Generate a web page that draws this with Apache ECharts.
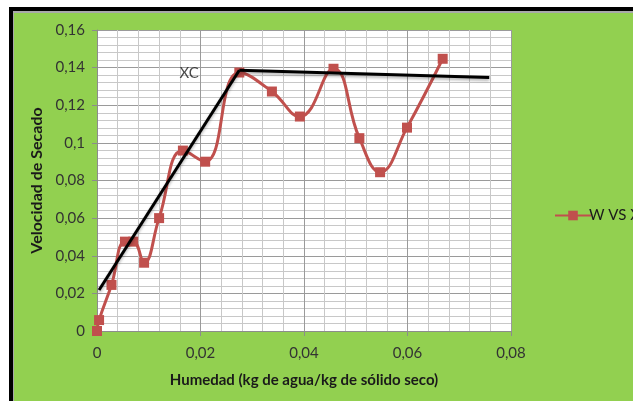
<!DOCTYPE html>
<html>
<head>
<meta charset="utf-8">
<script src="https://cdn.jsdelivr.net/npm/echarts@6/dist/echarts.min.js"></script>
<style>
  html, body { margin: 0; padding: 0; background: #fff; }
  #chart { width: 633px; height: 401px; }
</style>
</head>
<body>
<div id="chart"></div>
<script>
// Drying curve: drying rate vs. moisture content
const humedad = [0, 0.0004, 0.0028, 0.0054, 0.0070, 0.0091, 0.0120, 0.0166, 0.0209, 0.0275,
                 0.0338, 0.0392, 0.0457, 0.0507, 0.0547, 0.0599, 0.0668];
const velocidad = [0, 0.0058, 0.0245, 0.0475, 0.0475, 0.0363, 0.0600, 0.0959, 0.0900, 0.1374,
                   0.1273, 0.1140, 0.1394, 0.1025, 0.0844, 0.1081, 0.1447];

// Hand-fitted trend lines: falling-rate segment and constant-rate segment
const tramoDecreciente = [[0.0004, 0.0218], [0.0275, 0.1386]];
const tramoConstante = [[0.0275, 0.1386], [0.0758, 0.1347]];

// Critical moisture annotation
const etiquetaXC = { texto: 'XC', x: 0.0178, y: 0.1373 };

const xTicks = { min: 0, max: 0.08, step: 0.02 };
const yTicks = { min: 0, max: 0.16, step: 0.02 };

const fmt = v => String(+v.toFixed(4)).replace('.', ',');
const FONT = 'Lato, "Liberation Sans", sans-serif';

const chart = echarts.init(document.getElementById('chart'), null, { renderer: 'canvas' });

chart.setOption({
  backgroundColor: '#ffffff',
  animation: false,
  graphic: [
    { type: 'rect', z: -10, shape: { x: 9, y: 7, width: 624, height: 394 }, style: { fill: '#000' } },
    { type: 'rect', z: -9, shape: { x: 13, y: 11, width: 620, height: 390 }, style: { fill: '#a9a9a9' } },
    { type: 'rect', z: -8, shape: { x: 14, y: 13, width: 619, height: 388 }, style: { fill: '#92D050' } },
    { type: 'rect', z: -7, shape: { x: 97, y: 30, width: 414, height: 301 }, style: { fill: '#ffffff' } }
  ],
  grid: { left: 97, top: 30, width: 414, height: 301, show: false },
  legend: {
    data: ['W VS X'],
    left: 549,
    top: 203,
    itemWidth: 36,
    itemHeight: 12,
    itemGap: 0,
    textStyle: { fontFamily: FONT, fontSize: 15, color: '#1a1a1a', padding: [0, 0, 0, -7] }
  },
  xAxis: {
    type: 'value',
    min: xTicks.min, max: xTicks.max, interval: xTicks.step,
    name: 'Humedad (kg de agua/kg de sólido seco)',
    nameLocation: 'middle',
    nameGap: 42,
    nameTextStyle: { fontFamily: FONT, fontSize: 15, fontWeight: 'bold', color: '#1a1a1a' },
    axisLine: { show: true, lineStyle: { color: '#8c8c8c', width: 1 } },
    axisTick: { show: true, length: 5, lineStyle: { color: '#8c8c8c' } },
    axisLabel: { formatter: fmt, fontFamily: FONT, fontSize: 15, color: '#333', margin: 15 },
    splitLine: { show: true, lineStyle: { color: '#9a9a9a', width: 1 } },
    minorTick: { show: false, splitNumber: 5 },
    minorSplitLine: { show: true, lineStyle: { color: '#c8c8c8', width: 1 } }
  },
  yAxis: {
    type: 'value',
    min: yTicks.min, max: yTicks.max, interval: yTicks.step,
    name: 'Velocidad de Secado',
    nameLocation: 'middle',
    nameGap: 48,
    nameTextStyle: { fontFamily: FONT, fontSize: 16, fontWeight: 'bold', color: '#1a1a1a' },
    axisLine: { show: true, lineStyle: { color: '#8c8c8c', width: 1 } },
    axisTick: { show: true, length: 5, lineStyle: { color: '#8c8c8c' } },
    axisLabel: { formatter: fmt, fontFamily: FONT, fontSize: 15, color: '#333', margin: 12 },
    splitLine: { show: true, lineStyle: { color: '#9a9a9a', width: 1 } },
    minorTick: { show: false, splitNumber: 5 },
    minorSplitLine: { show: true, lineStyle: { color: '#c8c8c8', width: 1 } }
  },
  series: [
    {
      name: 'W VS X',
      type: 'line',
      data: humedad.map((x, i) => [x, velocidad[i]]),
      smooth: 0.45,
      symbol: 'rect',
      symbolSize: 10,
      lineStyle: { color: '#C0504D', width: 3 },
      itemStyle: { color: '#C0504D' },
      z: 3
    },
    {
      name: 'tramo1',
      type: 'line',
      data: tramoDecreciente,
      symbol: 'none',
      lineStyle: { color: '#000', width: 3, shadowColor: 'rgba(0,0,0,0.3)', shadowBlur: 3, shadowOffsetY: 2 },
      silent: true,
      z: 4
    },
    {
      name: 'tramo2',
      type: 'line',
      data: tramoConstante,
      symbol: 'none',
      lineStyle: { color: '#000', width: 3, shadowColor: 'rgba(0,0,0,0.3)', shadowBlur: 3, shadowOffsetY: 2 },
      silent: true,
      z: 4
    },
    {
      name: 'xc',
      type: 'scatter',
      data: [[etiquetaXC.x, etiquetaXC.y]],
      symbolSize: 1,
      itemStyle: { color: 'rgba(0,0,0,0)' },
      label: {
        show: true,
        position: 'inside',
        formatter: etiquetaXC.texto,
        fontFamily: FONT,
        fontSize: 15,
        color: '#1a1a1a'
      },
      silent: true,
      z: 5
    }
  ]
});
</script>
</body>
</html>
